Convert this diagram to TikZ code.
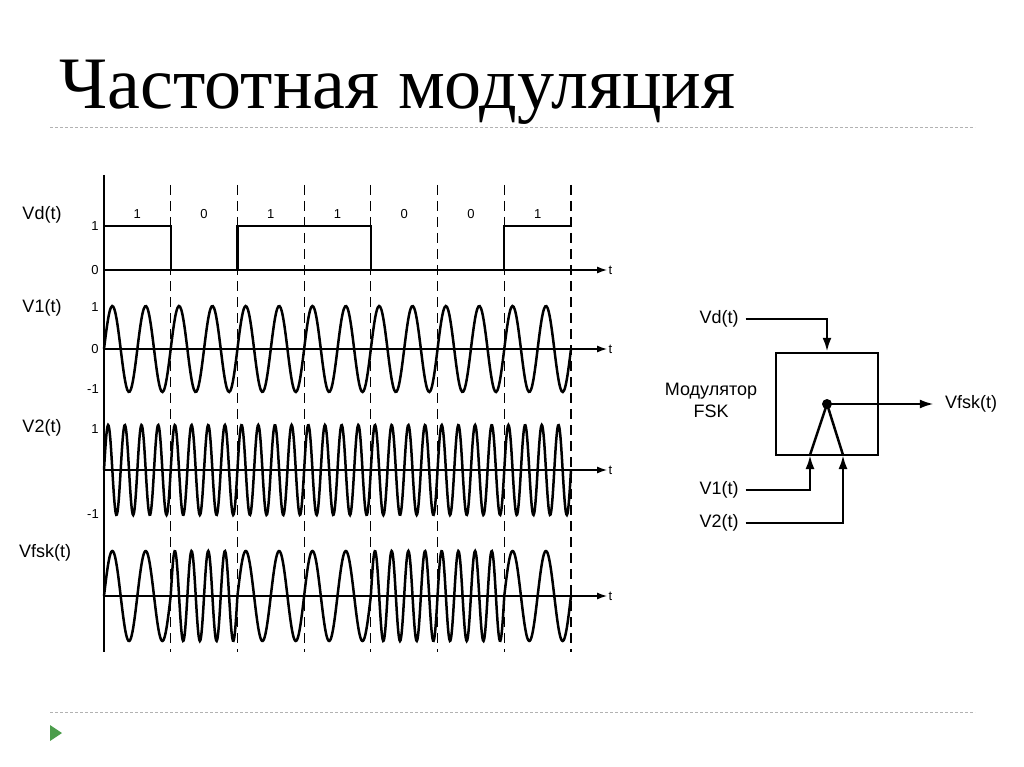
\documentclass[tikz,border=0pt]{standalone}
\usepackage{fontspec}
\setmainfont{Liberation Sans}
\newfontfamily\titlefont{Liberation Serif}
\usetikzlibrary{arrows, arrows.meta, positioning, calc}

\begin{document}
\begin{tikzpicture}[
    x=1pt, y=-1pt,
    lbl/.style={font=\fontsize{18}{22}\selectfont, inner sep=1pt},
    tick/.style={font=\fontsize{13}{15}\selectfont, inner sep=1pt},
    axis/.style={line width=1.2pt,-{Latex[length=10pt,width=7pt]}},
    wave/.style={line width=2.5pt, samples=400, smooth},
    sep/.style={dash pattern=on 10pt off 6pt, line width=1.1pt},
    arrow/.style={line width=2.5pt,-{Latex[length=14pt,width=9pt]}}
]
\useasboundingbox (0,0) rectangle (1024,767);
\def\bw{66.71}

% Title and page rules
\node[anchor=west, font=\titlefont\fontsize{74}{80}\selectfont] (title) at (56,92) {Частотная модуляция};
\draw[gray!60, densely dashed] (50,127) -- (975,127);
\draw[gray!60, densely dashed] (50,712) -- (975,712);
\fill[green!45!black!70] (50,725) -- (62,733) -- (50,741) -- cycle;

% Axes
\draw[line width=1.2pt] (104,175) -- (104,652);
\foreach \y in {270,349,470,596}
    \draw[axis] (104,\y) -- (607,\y) node[right, tick] {t};
\foreach \k in {1,...,7}
    \draw[sep] (104+\k*\bw,185) -- (104+\k*\bw,652);

% Vd(t)
\node[lbl] (vd) at (42,215) {Vd(t)};
\node[tick] at (95,226) {1};
\node[tick] at (95,270) {0};
\draw[line width=2.4pt] (104,226) -- ({104+\bw},226) -- ({104+\bw},270) -- ({104+2*\bw},270)
    -- ({104+2*\bw},226) -- ({104+4*\bw},226) -- ({104+4*\bw},270) -- ({104+6*\bw},270)
    -- ({104+6*\bw},226) -- ({104+7*\bw},226);
\foreach \b [count=\i from 0] in {1,0,1,1,0,0,1}
    \node[tick] at ({104+(\i+0.5)*\bw},214) {\b};

% V1(t)
\node[lbl] (v1) at (42,308) {V1(t)};
\node[tick] at (95,307) {1};
\node[tick] at (95,349) {0};
\node[tick] at (93,389) {-1};
\draw[wave, domain=0:7*\bw] plot ({104+\x},{349-43*sin(\x/\bw*2*360)});

% V2(t)
\node[lbl] (v2) at (42,428) {V2(t)};
\node[tick] at (95,429) {1};
\node[tick] at (93,514) {-1};
\draw[wave, samples=800, domain=0:7*\bw] plot ({104+\x},{470-45*sin(\x/\bw*4*360)});

% Vfsk(t)
\node[lbl] (vfsk) at (45,553) {Vfsk(t)};
\foreach \b [count=\i from 0] in {2,4,2,2,4,4,2}
    \draw[wave, samples=120, domain=0:\bw] plot ({104+\i*\bw+\x},{596-45*sin(\x/\bw*\b*360)});

% Modulator block
\node[draw, line width=2.5pt, minimum width=102pt, minimum height=102pt] (mod) at (827,404) {};
\fill (827,404) circle (5pt) coordinate (sw);
\coordinate (in1) at (810,455);
\coordinate (in2) at (843,455);
\draw[line width=2.5pt] (in1) -- (sw) -- (in2);
\node[lbl, align=center] (modlbl) at (711,400) {Модулятор\\FSK};
\node[lbl] (bvd) at (719,319) {Vd(t)};
\node[lbl] (bv1) at (719,490) {V1(t)};
\node[lbl] (bv2) at (719,523) {V2(t)};
\node[lbl] (bout) at (971,404) {Vfsk(t)};
\draw[arrow] ($(bvd.east)+(6,0)$) -| (mod.north);
\draw[arrow] ($(bv1.east)+(6,0)$) -| (in1);
\draw[arrow] ($(bv2.east)+(6,0)$) -| (in2);
\draw[arrow] (sw) -- ($(bout.west)+(-10,0)$);
\end{tikzpicture}
\end{document}
